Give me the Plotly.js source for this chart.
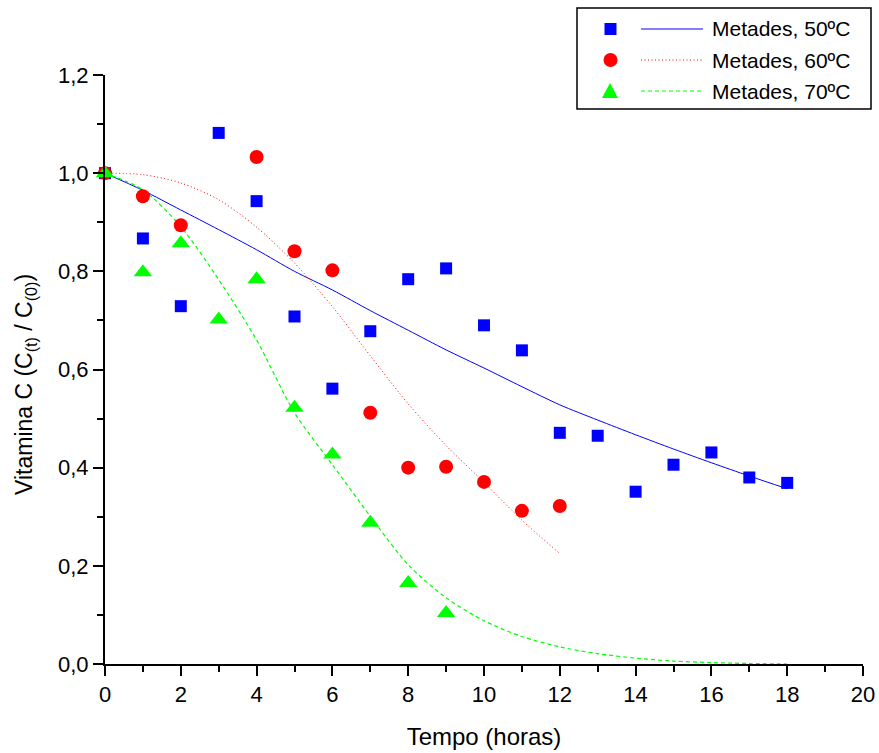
<!DOCTYPE html>
<html>
<head>
<meta charset="utf-8">
<script src="https://cdn.plot.ly/plotly-3.0.1.min.js"></script>
<style>
html,body{margin:0;padding:0;background:#fff;}
#chart{width:879px;height:753px;}
</style>
</head>
<body>
<div id="chart"></div>
<script>
// ---- Data ----
const timeHours = [0,1,2,3,4,5,6,7,8,9,10,11,12,13,14,15,16,17,18];
const points50 = [1.0,0.867,0.729,1.082,0.943,0.708,0.561,0.678,0.784,0.806,0.690,0.639,0.471,0.465,0.351,0.406,0.431,0.380,0.369];

const time60 = [0,1,2,4,5,6,7,8,9,10,11,12];
const points60 = [1.0,0.953,0.894,1.033,0.841,0.802,0.512,0.400,0.402,0.371,0.312,0.322];

const time70 = [0,1,2,3,4,5,6,7,8,9];
const points70 = [1.0,0.798,0.857,0.702,0.784,0.522,0.427,0.288,0.165,0.104];

const fitX50 = [0,1,2,3,4,5,6,7,8,9,10,11,12,13,14,15,16,17,18];
const fitY50 = [1.0,0.965,0.925,0.885,0.844,0.800,0.762,0.720,0.680,0.640,0.603,0.565,0.528,0.497,0.467,0.438,0.410,0.383,0.357];

const fitX60 = [0,1,2,3,4,5,6,7,8,9,10,11,12];
const fitY60 = [1.0,0.997,0.980,0.946,0.890,0.817,0.728,0.628,0.530,0.445,0.370,0.293,0.225];

const fitX70 = [0,1,2,3,4,5,6,7,8,9,10,11,12,13,14,15,16,17,18];
const fitY70 = [1.0,0.966,0.891,0.783,0.660,0.512,0.406,0.301,0.202,0.135,0.088,0.056,0.035,0.021,0.012,0.006,0.003,0.001,0.0];

const legendLabels = ['Metades, 50ºC','Metades, 60ºC','Metades, 70ºC'];
const xTitle = 'Tempo (horas)';
const yTitle = 'Vitamina C (C<sub>(t)</sub> / C<sub>(0)</sub>)';

// ---- Styles ----
const BLUE = '#0000ff', RED = '#ff0000', GREEN = '#00ff00';
const FONT = 'Liberation Sans, Arial, sans-serif';

const traces = [
  {x: fitX50, y: fitY50, mode: 'lines', line: {color: BLUE, width: 1, shape: 'spline', smoothing: 0.8}, showlegend: false, cliponaxis: false},
  {x: fitX60, y: fitY60, mode: 'lines', line: {color: RED, width: 1, dash: '1px,2.5px', shape: 'spline', smoothing: 0.8}, showlegend: false, cliponaxis: false},
  {x: fitX70, y: fitY70, mode: 'lines', line: {color: GREEN, width: 1.2, dash: '4px,3px', shape: 'spline', smoothing: 0.8}, showlegend: false, cliponaxis: false},
  {x: timeHours, y: points50, mode: 'markers', marker: {symbol: 'square', size: 12, color: BLUE}, showlegend: false, cliponaxis: false},
  {x: time60, y: points60, mode: 'markers', marker: {symbol: 'circle', size: 14, color: RED}, showlegend: false, cliponaxis: false},
  {x: time70, y: points70, mode: 'markers', marker: {symbol: 'triangle-up', size: 16, color: GREEN}, showlegend: false, cliponaxis: false}
];

// Plot area in pixels
const W = 879, H = 753;
const L = 105, R = 863, T = 75, B = 664;
const px = v => (v - L) / (R - L);
const py = v => (B - v) / (B - T);

// Custom legend (box, symbols, line samples, labels)
const shapes = [];
const annotations = [];
shapes.push({type: 'rect', xref: 'paper', yref: 'paper', x0: px(577), x1: px(871), y0: py(109), y1: py(8),
  line: {color: '#000', width: 1.5}, fillcolor: 'rgba(0,0,0,0)'});
const rowsY = [29, 60, 91];
const colors = [BLUE, RED, GREEN];
const dashes = ['solid', '1px,2.5px', '4px,3px'];
shapes.push({type: 'rect', xref: 'paper', yref: 'paper', x0: px(604.5), x1: px(616.5), y0: py(rowsY[0]+6), y1: py(rowsY[0]-6),
  line: {width: 0}, fillcolor: BLUE});
shapes.push({type: 'circle', xref: 'paper', yref: 'paper', x0: px(603.5), x1: px(617.5), y0: py(rowsY[1]+7), y1: py(rowsY[1]-7),
  line: {width: 0}, fillcolor: RED});
shapes.push({type: 'path', xref: 'paper', yref: 'paper',
  path: `M ${px(602)} ${py(rowsY[2]+7)} L ${px(618)} ${py(rowsY[2]+7)} L ${px(610)} ${py(rowsY[2]-8)} Z`,
  line: {width: 0}, fillcolor: GREEN});
for (let i = 0; i < 3; i++) {
  shapes.push({type: 'line', xref: 'paper', yref: 'paper', x0: px(641), x1: px(703), y0: py(rowsY[i]), y1: py(rowsY[i]),
    line: {color: colors[i], width: 1.2, dash: dashes[i]}});
  annotations.push({xref: 'paper', yref: 'paper', x: px(710), y: py(rowsY[i]), xanchor: 'left', yanchor: 'middle',
    text: legendLabels[i], showarrow: false, font: {family: FONT, size: 21, color: '#000'}});
}
// Y-axis title as rotated annotation
annotations.push({xref: 'paper', yref: 'paper', x: px(25), y: py(385), xanchor: 'center', yanchor: 'middle',
  textangle: -90, text: yTitle, showarrow: false, font: {family: FONT, size: 23, color: '#000'}});

const layout = {
  width: W, height: H,
  margin: {l: L, r: W - R, t: T, b: H - B, pad: 0},
  paper_bgcolor: '#fff', plot_bgcolor: '#fff',
  separators: ', ',
  showlegend: false,
  font: {family: FONT, color: '#000'},
  xaxis: {
    range: [0, 20], dtick: 2, tick0: 0, showgrid: false, zeroline: false,
    showline: true, linecolor: '#000', linewidth: 2,
    ticks: 'outside', ticklen: 10, tickwidth: 2, tickcolor: '#000',
    tickfont: {family: FONT, size: 22},
    minor: {dtick: 1, ticks: 'outside', ticklen: 6, tickwidth: 2, tickcolor: '#000', showgrid: false},
    title: {text: xTitle, font: {family: FONT, size: 24}, standoff: 22}
  },
  yaxis: {
    range: [0, 1.2], dtick: 0.2, tick0: 0, tickformat: '.1f', showgrid: false, zeroline: false,
    showline: true, linecolor: '#000', linewidth: 2,
    ticks: 'outside', ticklen: 10, tickwidth: 2, tickcolor: '#000',
    tickfont: {family: FONT, size: 22},
    minor: {dtick: 0.1, ticks: 'outside', ticklen: 6, tickwidth: 2, tickcolor: '#000', showgrid: false}
  },
  shapes: shapes,
  annotations: annotations
};

Plotly.newPlot('chart', traces, layout, {displayModeBar: false, staticPlot: true});
</script>
</body>
</html>
